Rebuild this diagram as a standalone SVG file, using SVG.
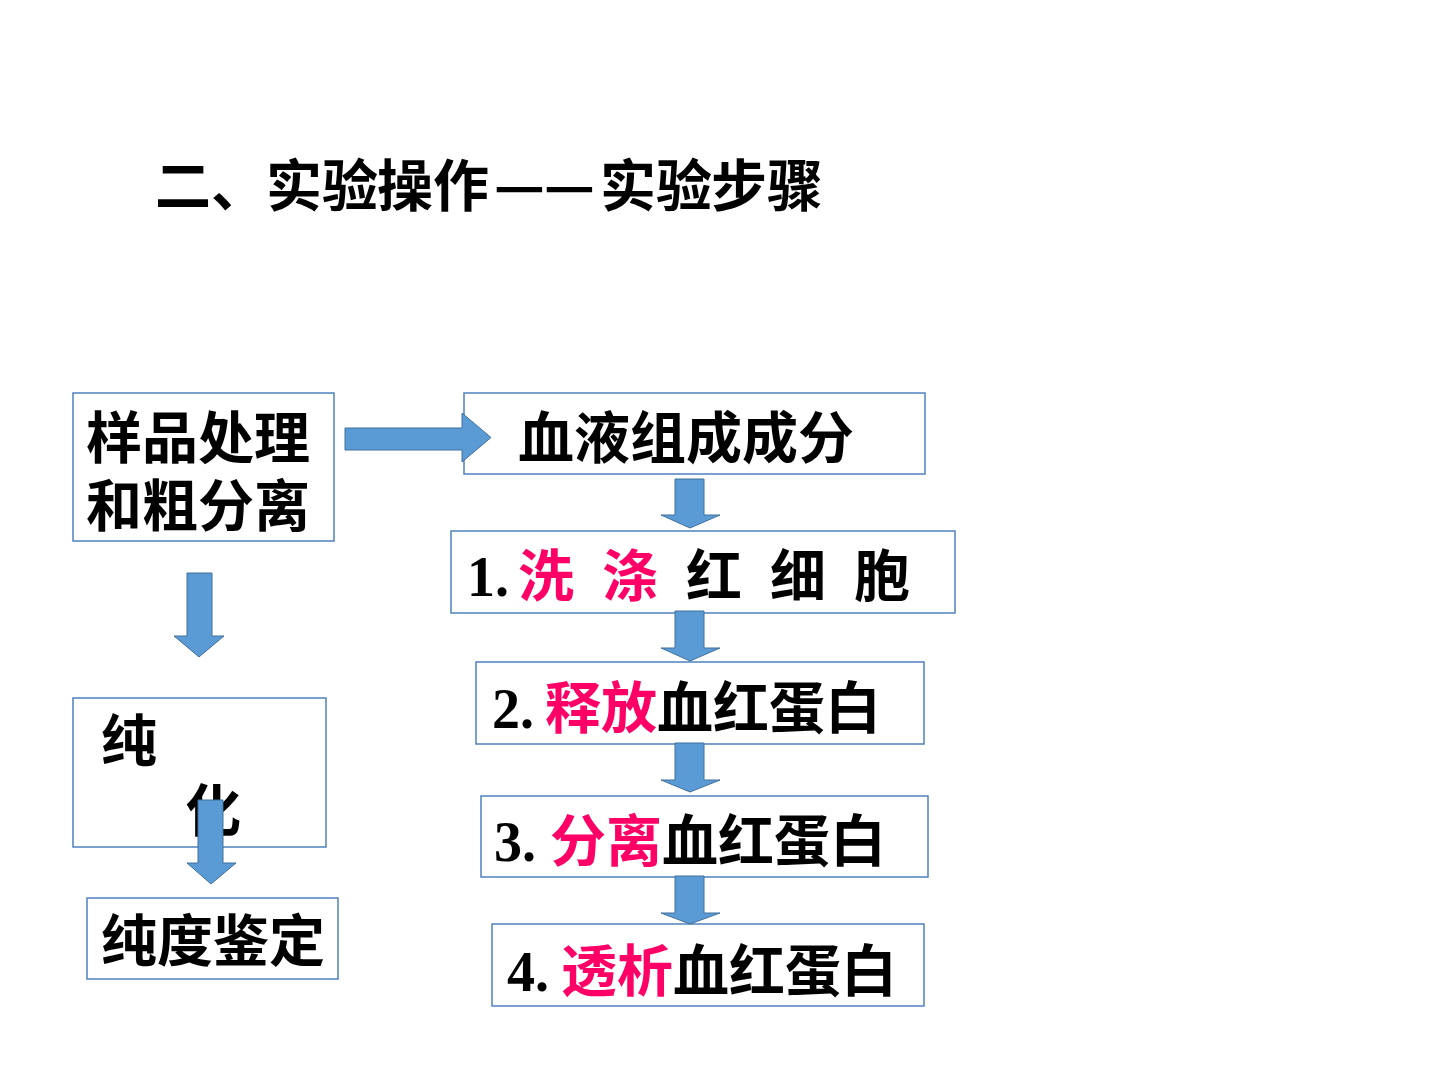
<svg xmlns="http://www.w3.org/2000/svg" width="1440" height="1080" viewBox="0 0 1440 1080">
<style>
.box{fill:#ffffff;stroke:#4F81BD;stroke-width:1.5}
.t{font-family:"Noto Sans CJK SC","Noto Sans CJK JP",sans-serif;font-size:56px;font-weight:bold;fill:#000000}
.num{font-family:"Liberation Serif","Noto Sans CJK SC",serif;font-weight:bold}
.red{fill:#FF0066}
.arr{fill:#5B9BD5;stroke:#41719C;stroke-width:1}
</style>
<rect width="1440" height="1080" fill="#ffffff"/>
<text id="title" class="t" y="206" x="155 211 266 322 377 433 494 544 600 656 711 767">二、实验操作——实验步骤</text>
<g id="node-sample">
<rect class="box" x="73" y="393" width="261" height="148"/>
<text class="t"><tspan x="86" y="458">样品处理</tspan><tspan x="86" y="526">和粗分离</tspan></text>
</g>
<g id="node-blood">
<rect class="box" x="464" y="393" width="461" height="81"/>
<text class="t" x="518" y="458">血液组成成分</text>
</g>
<g id="node-step1">
<rect class="box" x="451" y="531" width="504" height="82"/>
<text class="t" y="596"><tspan class="num" x="467">1.</tspan><tspan class="red" x="518 574 602">洗 涤</tspan><tspan x="658 686 742 770 826 854"> 红 细 胞</tspan></text>
</g>
<g id="node-step2">
<rect class="box" x="476" y="662" width="448" height="82"/>
<text class="t" y="728"><tspan class="num" x="492">2. </tspan><tspan class="red" x="545">释放</tspan><tspan>血红蛋白</tspan></text>
</g>
<g id="node-step3">
<rect class="box" x="481" y="796" width="447" height="81"/>
<text class="t" y="861"><tspan class="num" x="494">3. </tspan><tspan class="red" x="550">分离</tspan><tspan>血红蛋白</tspan></text>
</g>
<g id="node-step4">
<rect class="box" x="492" y="924" width="432" height="82"/>
<text class="t" y="991"><tspan class="num" x="507">4. </tspan><tspan class="red" x="561">透析</tspan><tspan>血红蛋白</tspan></text>
</g>
<g id="node-purify">
<rect class="box" x="73" y="698" width="253" height="149"/>
<text class="t"><tspan x="101" y="761">纯</tspan><tspan x="185" y="831">化</tspan></text>
</g>
<g id="node-purity">
<rect class="box" x="87" y="898" width="251" height="81"/>
<text class="t" x="101" y="961">纯度鉴定</text>
</g>
<g id="connectors">
<polygon class="arr" points="345,428 462,428 462,413 491,437.5 462,462 462,450 345,450"/>
<polygon class="arr" points="675,479 704,479 704,515 720,515 690,528 661,515 675,515"/>
<polygon class="arr" points="675,611 704,611 704,648 720,648 690,661 661,648 675,648"/>
<polygon class="arr" points="675,743 704,743 704,780 720,780 690,792 661,780 675,780"/>
<polygon class="arr" points="675,876 704,876 704,913 720,913 690,924 661,913 675,913"/>
<polygon class="arr" points="187,573 212,573 212,636 224,636 199,657 174,636 187,636"/>
<polygon class="arr" points="198,800 223,800 223,863 236,863 211,884 187,863 198,863"/>
</g>
</svg>
